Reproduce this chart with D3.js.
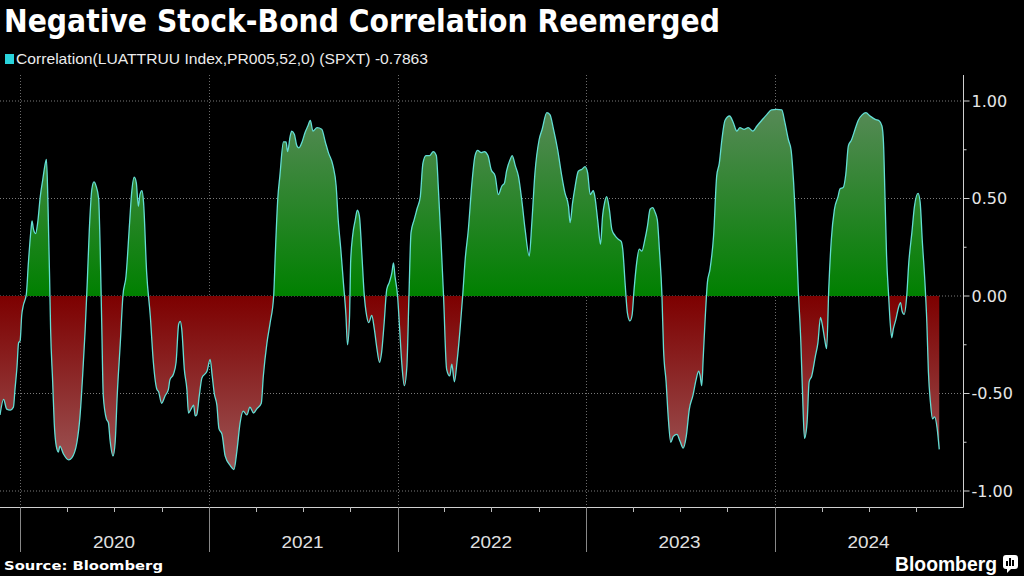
<!DOCTYPE html>
<html><head><meta charset="utf-8">
<script src="https://cdn.jsdelivr.net/npm/d3@7"></script>
<style>
html,body{margin:0;padding:0;background:#000;}
svg{display:block;}
</style></head>
<body>
<svg id="c" width="1024" height="576"></svg>
<script>
const titleText = "Negative Stock-Bond Correlation Reemerged";
const legendText = "Correlation(LUATTRUU Index,PR005,52,0) (SPXT) -0.7863";
const sourceText = "Source: Bloomberg";
const brandText = "Bloomberg";
const baseDate = "2020-01-01";
const domainStartOffset = -39;
const domainEnd = "2024-12-31";
// days since 2020-01-01
const dayOffsets = [-39,-32,-26,-19,-13,-10,-6,-3,0,3,6,12,16,21,23,26,30,34,39,44,48,51,54,57,59,63,66,70,74,77,84,94,100,110,116,121,126,130,134,139,143,147,152,155,158,161,167,171,174,180,184,188,194,199,205,212,216,221,225,229,232,236,239,245,252,258,265,268,274,281,287,290,297,302,307,310,313,318,323,326,331,336,339,342,347,352,362,368,372,376,381,385,391,397,407,414,420,426,432,439,445,452,458,467,471,478,484,491,494,499,503,510,515,518,523,526,531,536,540,546,552,557,562,567,575,584,591,597,606,612,616,621,626,631,634,638,640,644,649,653,657,662,666,671,675,681,686,691,696,700,705,710,715,720,723,726,731,735,739,744,749,753,757,763,769,775,780,786,793,800,806,810,815,820,826,832,836,841,846,852,857,862,868,875,881,886,893,899,906,912,920,926,933,938,942,949,953,959,965,972,978,986,991,997,1005,1011,1020,1026,1033,1041,1049,1055,1062,1065,1070,1075,1081,1088,1094,1099,1104,1110,1113,1119,1124,1128,1132,1136,1141,1146,1152,1159,1164,1167,1172,1176,1181,1185,1189,1194,1199,1204,1210,1215,1220,1225,1230,1234,1238,1243,1246,1251,1255,1260,1265,1272,1278,1284,1290,1296,1303,1309,1314,1317,1320,1323,1327,1331,1336,1343,1349,1354,1359,1365,1374,1381,1388,1394,1402,1410,1419,1427,1436,1446,1455,1465,1475,1481,1488,1493,1498,1502,1507,1512,1515,1519,1524,1528,1533,1540,1545,1550,1554,1558,1562,1566,1571,1577,1584,1588,1594,1599,1604,1610,1617,1623,1631,1638,1646,1656,1663,1669,1672,1675,1678,1682,1685,1688,1691,1696,1701,1705,1708,1712,1717,1721,1727,1732,1739,1743,1747,1753,1756,1759,1763,1767,1771,1776,1780];
const correlation = [-0.61,-0.53,-0.58,-0.585,-0.57,-0.48,-0.36,-0.24,-0.23,-0.10,-0.05,0.01,0.17,0.34,0.385,0.34,0.32,0.376,0.51,0.60,0.67,0.70,0.46,0.10,-0.17,-0.44,-0.65,-0.77,-0.80,-0.77,-0.81,-0.84,-0.83,-0.75,-0.615,-0.41,-0.17,0.07,0.34,0.55,0.585,0.565,0.50,0.24,-0.14,-0.51,-0.63,-0.65,-0.735,-0.82,-0.75,-0.51,-0.24,0,0.10,0.376,0.53,0.61,0.58,0.46,0.52,0.54,0.48,0.12,-0.10,-0.34,-0.48,-0.49,-0.55,-0.51,-0.48,-0.43,-0.40,-0.34,-0.145,-0.13,-0.17,-0.376,-0.48,-0.60,-0.58,-0.56,-0.615,-0.61,-0.51,-0.42,-0.385,-0.325,-0.41,-0.50,-0.56,-0.68,-0.71,-0.82,-0.87,-0.89,-0.79,-0.65,-0.59,-0.61,-0.57,-0.60,-0.58,-0.55,-0.41,-0.24,-0.14,0,0.205,0.50,0.615,0.79,0.79,0.74,0.82,0.846,0.83,0.77,0.76,0.79,0.84,0.87,0.90,0.846,0.863,0.855,0.79,0.735,0.667,0.564,0.39,0.24,0.07,-0.10,-0.25,-0.10,0.17,0.31,0.39,0.44,0.41,0.205,0.02,-0.10,-0.137,-0.10,-0.17,-0.27,-0.34,-0.29,-0.137,0.034,0.07,0.12,0.17,0.10,0,-0.17,-0.34,-0.46,-0.36,0,0.325,0.39,0.45,0.51,0.68,0.72,0.72,0.74,0.72,0.55,0.29,0,-0.376,-0.41,-0.35,-0.44,-0.34,-0.17,0,0.19,0.34,0.58,0.72,0.747,0.735,0.74,0.72,0.65,0.615,0.52,0.564,0.58,0.64,0.70,0.72,0.667,0.615,0.48,0.34,0.205,0.376,0.63,0.80,0.855,0.94,0.93,0.855,0.75,0.615,0.53,0.46,0.376,0.48,0.564,0.64,0.65,0.663,0.632,0.52,0.54,0.51,0.376,0.265,0.41,0.48,0.51,0.445,0.34,0.31,0.29,0.28,0.24,0.05,-0.085,-0.128,-0.10,0.034,0.17,0.24,0.23,0.29,0.36,0.445,0.453,0.427,0.39,0.24,0,-0.27,-0.44,-0.615,-0.75,-0.72,-0.71,-0.745,-0.78,-0.72,-0.58,-0.51,-0.43,-0.385,-0.41,-0.46,-0.31,-0.10,0.07,0.137,0.31,0.615,0.68,0.80,0.90,0.923,0.89,0.846,0.863,0.855,0.863,0.846,0.872,0.90,0.93,0.954,0.957,0.954,0.89,0.80,0.75,0.58,0.376,0.034,-0.24,-0.48,-0.73,-0.65,-0.44,-0.41,-0.31,-0.24,-0.11,-0.154,-0.22,-0.27,0.034,0.29,0.444,0.51,0.55,0.556,0.624,0.77,0.80,0.855,0.90,0.93,0.94,0.923,0.906,0.90,0.872,0.786,0.50,0.205,0,-0.137,-0.214,-0.17,-0.12,-0.06,-0.034,-0.077,-0.094,0,0.17,0.325,0.46,0.526,0.48,0.29,0.034,-0.137,-0.39,-0.547,-0.63,-0.62,-0.68,-0.7863];
const yTicks = [-1, -0.5, 0, 0.5, 1];
const yMinorTicks = [-0.75, -0.25, 0.25, 0.75];
const yearLabels = ["2020","2021","2022","2023","2024"];

const svg = d3.select("#c");
const parse = d3.utcParse("%Y-%m-%d");
const base = parse(baseDate);
const data = dayOffsets.map((d,i)=>({date:d3.utcDay.offset(base,d), v:correlation[i]}));

const axisX = 963, axisBottom = 507, axisTop = 75;
const x = d3.scaleUtc().domain([d3.utcDay.offset(base,domainStartOffset), parse(domainEnd)]).range([0, axisX]);
const y = d3.scaleLinear().domain([-1,1]).range([491,101]);

const defs = svg.append("defs");
const gPos = defs.append("linearGradient").attr("id","gpos").attr("gradientUnits","userSpaceOnUse")
  .attr("x1",0).attr("x2",0).attr("y1",y(0)).attr("y2",y(1));
gPos.append("stop").attr("offset",0).attr("stop-color","#008000");
gPos.append("stop").attr("offset",1).attr("stop-color","#5a8a5a");
const gNeg = defs.append("linearGradient").attr("id","gneg").attr("gradientUnits","userSpaceOnUse")
  .attr("x1",0).attr("x2",0).attr("y1",y(0)).attr("y2",y(-1));
gNeg.append("stop").attr("offset",0).attr("stop-color","#7d0000");
gNeg.append("stop").attr("offset",1).attr("stop-color","#a06060");
defs.append("clipPath").attr("id","cpos").append("rect").attr("x",0).attr("y",0).attr("width",axisX).attr("height",y(0));
defs.append("clipPath").attr("id","cneg").append("rect").attr("x",0).attr("y",y(0)).attr("width",axisX).attr("height",576-y(0));

// gridlines
const grid = svg.append("g");
grid.selectAll("line.h").data(yTicks).join("line")
  .attr("x1",0).attr("x2",axisX).attr("y1",d=>y(d)).attr("y2",d=>y(d))
  .attr("stroke","#7a7a7a").attr("stroke-width",1).attr("stroke-dasharray","1,2");
const years = yearLabels.map(s=>parse(s+"-01-01"));
grid.selectAll("line.v").data(years).join("line")
  .attr("x1",d=>Math.round(x(d))+0.5).attr("x2",d=>Math.round(x(d))+0.5).attr("y1",axisTop).attr("y2",axisBottom)
  .attr("stroke","#6a6a6a").attr("stroke-width",1).attr("stroke-dasharray","1,2");

// areas
const area = d3.area().x(d=>x(d.date)).y0(y(0)).y1(d=>y(d.v)).curve(d3.curveMonotoneX);
svg.append("path").datum(data).attr("d",area).attr("fill","url(#gpos)").attr("clip-path","url(#cpos)");
svg.append("path").datum(data).attr("d",area).attr("fill","url(#gneg)").attr("clip-path","url(#cneg)");
const line = d3.line().x(d=>x(d.date)).y(d=>y(d.v)).curve(d3.curveMonotoneX);
svg.append("path").datum(data).attr("d",line).attr("fill","none").attr("stroke","#63ddd4").attr("stroke-width",1.3);

// y axis
const fmt = d=>d3.format(".2f")(d).replace("\u2212","-");
const ya = svg.append("g").attr("transform",`translate(${axisX+0.5},0)`);
ya.append("line").attr("x1",0).attr("x2",0).attr("y1",axisTop).attr("y2",axisBottom+0.5).attr("stroke","#d0d0d0");
ya.selectAll("line.mt").data(yTicks).join("line").attr("x1",0).attr("x2",6).attr("y1",d=>y(d)).attr("y2",d=>y(d)).attr("stroke","#d0d0d0");
ya.selectAll("line.mn").data(yMinorTicks).join("line").attr("x1",0).attr("x2",3).attr("y1",d=>y(d)).attr("y2",d=>y(d)).attr("stroke","#d0d0d0");
ya.selectAll("text").data(yTicks).join("text").attr("x",8).attr("y",d=>y(d)).attr("dy","0.36em")
  .attr("fill","#e6e6e6").attr("font-family","DejaVu Sans, sans-serif").attr("font-size",16).text(fmt);

// x axis
const xa = svg.append("g");
xa.append("line").attr("x1",0).attr("x2",axisX+0.5).attr("y1",axisBottom+0.5).attr("y2",axisBottom+0.5).attr("stroke","#d0d0d0");
const quarters = d3.utcMonth.every(3).range(x.domain()[0], x.domain()[1]).filter(d=>d.getUTCMonth()!==0);
xa.selectAll("line.q").data(quarters).join("line")
  .attr("x1",d=>Math.round(x(d))+0.5).attr("x2",d=>Math.round(x(d))+0.5).attr("y1",axisBottom).attr("y2",axisBottom+5).attr("stroke","#bbbbbb");
xa.selectAll("line.y").data(years).join("line")
  .attr("x1",d=>Math.round(x(d))+0.5).attr("x2",d=>Math.round(x(d))+0.5).attr("y1",axisBottom).attr("y2",552).attr("stroke","#888888");
xa.selectAll("text").data(yearLabels).join("text")
  .attr("x",d=>x(parse(d+"-07-01"))).attr("y",548).attr("text-anchor","middle")
  .attr("fill","#e0e0e0").attr("font-family","Liberation Sans Narrow, Liberation Sans, sans-serif").attr("font-size",17)
  .attr("textLength",42).attr("lengthAdjust","spacingAndGlyphs").text(d=>d);

// title & legend
svg.append("text").attr("x",4).attr("y",32).attr("fill","#ffffff").attr("font-family","DejaVu Sans, sans-serif")
  .attr("font-weight","bold").attr("font-size",32).attr("textLength",716).attr("lengthAdjust","spacingAndGlyphs").text(titleText);
svg.append("rect").attr("x",5).attr("y",54).attr("width",9).attr("height",10).attr("fill","#2ad4dc");
svg.append("text").attr("x",16).attr("y",64).attr("fill","#ececec").attr("font-family","Liberation Sans Narrow, Liberation Sans, sans-serif")
  .attr("font-size",15).attr("textLength",412).attr("lengthAdjust","spacingAndGlyphs").text(legendText);

// footer
svg.append("text").attr("x",4).attr("y",570).attr("fill","#ffffff").attr("font-family","DejaVu Sans, sans-serif")
  .attr("font-weight","bold").attr("font-size",13).attr("textLength",159).attr("lengthAdjust","spacingAndGlyphs").text(sourceText);
svg.append("text").attr("x",895).attr("y",571).attr("fill","#ffffff").attr("font-family","Liberation Sans Narrow, Liberation Sans, sans-serif")
  .attr("font-weight","bold").attr("font-size",20).attr("textLength",102).attr("lengthAdjust","spacingAndGlyphs").text(brandText);
const logo = svg.append("g").attr("transform","translate(1003,555)");
logo.append("rect").attr("x",0).attr("y",0).attr("width",15).attr("height",14).attr("rx",3).attr("fill","#ffffff");
logo.append("path").attr("d","M4,14 L4,18 L8,14 Z").attr("fill","#ffffff");
[[3,6],[6,3],[9,5]].forEach(([bx,by])=>logo.append("rect").attr("x",bx).attr("y",by).attr("width",2).attr("height",11-by).attr("fill","#000"));
</script>
</body></html>
